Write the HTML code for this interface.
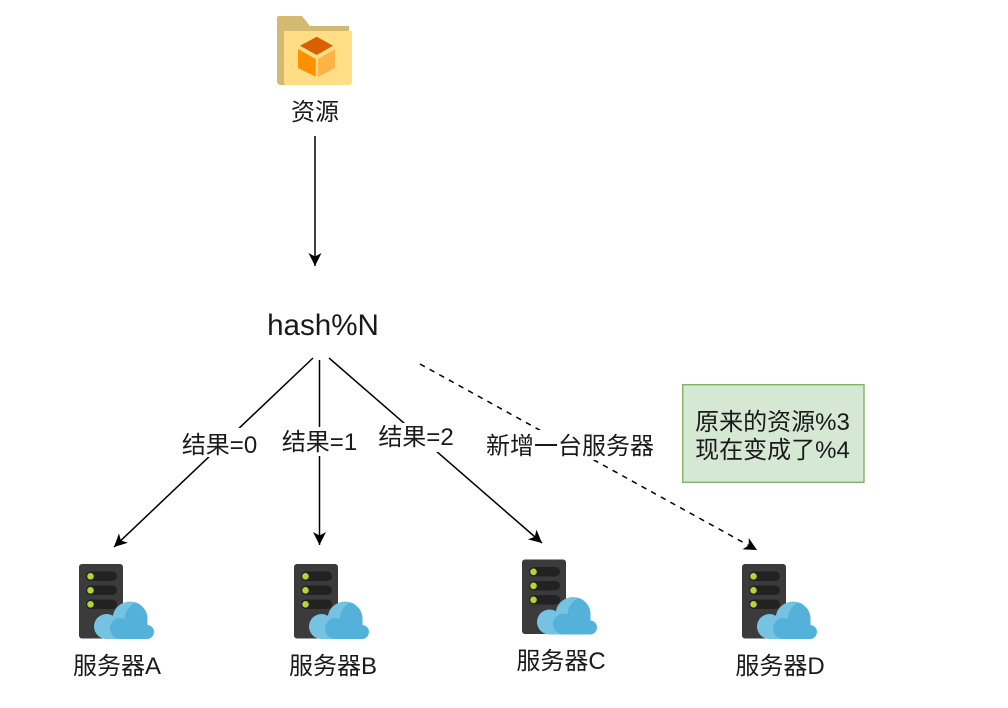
<!DOCTYPE html>
<html><head><meta charset="utf-8"><style>
html,body{margin:0;padding:0;background:#fff;width:1008px;height:708px;overflow:hidden}
svg{display:block}
text{font-family:"Liberation Sans","Noto Sans CJK SC",sans-serif;font-size:24px;fill:#1a1a1a;text-anchor:middle}
</style></head><body>
<svg width="1008" height="708" viewBox="0 0 1008 708" xmlns="http://www.w3.org/2000/svg">
<defs>
<g id="srv">
<rect x="0" y="0" width="44" height="74.500" rx="3" fill="#3b3b3b"/>
<rect x="7" y="7.500" width="31" height="9.500" rx="4.700" fill="#222"/>
<rect x="7" y="21.500" width="31" height="9.500" rx="4.700" fill="#222"/>
<rect x="7" y="35.500" width="31" height="9.500" rx="4.700" fill="#222"/>
<circle cx="11.500" cy="12.300" r="3.300" fill="#b4d435"/>
<circle cx="11.500" cy="26.300" r="3.300" fill="#b4d435"/>
<circle cx="11.500" cy="40.300" r="3.300" fill="#b4d435"/>
<circle cx="27.500" cy="62.500" r="12.500" fill="#75c3e3"/>
<circle cx="51" cy="55" r="17.500" fill="#75c3e3"/>
<rect x="27.500" y="58" width="40.500" height="17" fill="#75c3e3"/>
<path d="M56 38.200 A17.500 17.500 0 0 1 68.500 55 V61 H68 A7 7 0 0 1 68 75 H41.500 A10.500 10.500 0 0 1 41.500 54 L46 54.500 Q45 46 56 38.200 Z" fill="#54b2da"/>
</g>
<marker id="a" markerUnits="userSpaceOnUse" markerWidth="16" markerHeight="14" refX="13" refY="7" orient="auto">
<path d="M0 0.500 L13 7 L0 13.500 L3.500 7 Z" fill="#000"/>
</marker>
</defs>

<!-- folder -->
<path d="M279 16 H302 L310 26 H349 V85 H281 Q277 85 277 81 V18 Q277 16 279 16 Z" fill="#d4ba70"/>
<path d="M284 31 H352 V82 Q352 85 349 85 H287 Q284 85 284 82 Z" fill="#ffde85"/>
<path d="M316.700 36.700 L333 45.700 L316.700 55 L300 45.700 Z" fill="#da5f00"/>
<path d="M298 49 L315.700 59 V76.700 L298 68 Z" fill="#ff9100"/>
<path d="M335 49 L318 59 V77 L335 68 Z" fill="#ffb347"/>
<text x="315" y="120">资源</text>

<!-- connectors -->
<g stroke="#000" stroke-width="1.500" fill="none">
<line x1="315" y1="136" x2="315" y2="266" marker-end="url(#a)"/>
<line x1="313" y1="358" x2="114" y2="547" marker-end="url(#a)"/>
<line x1="319.500" y1="360" x2="319.500" y2="545" marker-end="url(#a)"/>
<line x1="329" y1="358" x2="542" y2="543" marker-end="url(#a)"/>
<line x1="420" y1="364" x2="757" y2="550" stroke-dasharray="5.500 5.500" marker-end="url(#a)"/>
</g>

<!-- labels with background -->
<rect x="181" y="428" width="77" height="29" fill="#fff"/>
<rect x="281" y="427" width="77" height="29" fill="#fff"/>
<rect x="377" y="423" width="77" height="29" fill="#fff"/>
<rect x="485" y="430" width="170" height="30" fill="#fff"/>
<text x="219.500" y="453">结果=0</text>
<text x="319.500" y="450">结果=1</text>
<text x="416" y="445">结果=2</text>
<text x="570" y="454">新增一台服务器</text>

<text x="323" y="335" style="font-size:29.600px">hash%N</text>

<!-- note -->
<rect x="682.700" y="384.700" width="181.300" height="97.600" fill="#d5e8d4" stroke="#82b366" stroke-width="1.400"/>
<text x="772.500" y="430">原来的资源%3</text>
<text x="772.500" y="458">现在变成了%4</text>

<!-- servers -->
<use href="#srv" x="79" y="564"/>
<use href="#srv" x="294" y="564"/>
<use href="#srv" x="522" y="559.500"/>
<use href="#srv" x="742" y="564"/>
<text x="117" y="674">服务器A</text>
<text x="333" y="674">服务器B</text>
<text x="561" y="669">服务器C</text>
<text x="780" y="674">服务器D</text>
</svg>
</body></html>
